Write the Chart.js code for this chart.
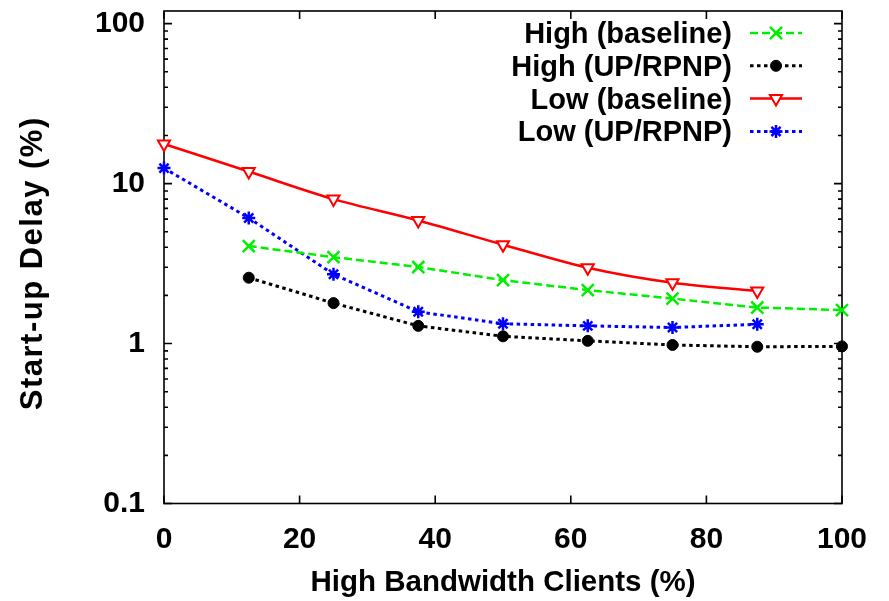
<!DOCTYPE html>
<html>
<head>
<meta charset="utf-8">
<script src="https://cdn.jsdelivr.net/npm/chart.js@4/dist/chart.umd.min.js"></script>
<style>
  html, body { margin: 0; padding: 0; background: #fff; }
  #wrap { width: 889px; height: 601px; }
</style>
</head>
<body>
<div id="wrap"><canvas id="c" width="889" height="601"></canvas></div>
<script>
// Share of high-bandwidth clients (%)
const clientShare = [0, 12.5, 25, 37.5, 50, 62.5, 75, 87.5, 100];

// Start-up delay (%) per configuration
const highBaseline = [null, 4.07, 3.47, 3.01, 2.49, 2.16, 1.91, 1.68, 1.62];
const highUpRpnp   = [null, 2.58, 1.79, 1.29, 1.11, 1.04, 0.98, 0.955, 0.96];
const lowBaseline  = [17.7, 11.9, 8.0, 5.88, 4.15, 2.98, 2.40, 2.13, null];
const lowUpRpnp    = [12.5, 6.1, 2.71, 1.58, 1.33, 1.29, 1.26, 1.32, null];

const seriesNames = ['High (baseline)', 'High (UP/RPNP)', 'Low (baseline)', 'Low (UP/RPNP)'];
const xTicks = [0, 20, 40, 60, 80, 100];
const yTicks = [0.1, 1, 10, 100];
const yTitle = 'Start-up Delay (%)';

const FONT = '"Liberation Sans", Arial, Helvetica, sans-serif';

function points(values) {
  const out = [];
  values.forEach((v, i) => { if (v !== null) out.push({ x: clientShare[i], y: v }); });
  return out;
}

const datasets = [
  {
    label: seriesNames[0], data: points(highBaseline),
    borderColor: '#00ee00', backgroundColor: '#00ee00', borderWidth: 2.5,
    borderDash: [8, 4], pointStyle: 'crossRot', pointRadius: 8.5,
    pointBorderWidth: 2.5, pointBorderColor: '#00ee00'
  },
  {
    label: seriesNames[1], data: points(highUpRpnp),
    borderColor: '#000', backgroundColor: '#000', borderWidth: 3,
    borderDash: [3.5, 3.5], pointStyle: 'circle', pointRadius: 5.5,
    pointBackgroundColor: '#000', pointBorderWidth: 1, pointBorderColor: '#000'
  },
  {
    label: seriesNames[2], data: points(lowBaseline),
    borderColor: '#ff0000', backgroundColor: '#fff', borderWidth: 2.5,
    borderDash: [], pointStyle: 'triangle', pointRotation: 180, pointRadius: 7,
    pointBackgroundColor: '#fff', pointBorderWidth: 2, pointBorderColor: '#ff0000',
    cubicInterpolationMode: 'monotone'
  },
  {
    label: seriesNames[3], data: points(lowUpRpnp),
    borderColor: '#0000ff', backgroundColor: '#0000ff', borderWidth: 3,
    borderDash: [3.5, 3.5], pointStyle: 'star', pointRadius: 6.5,
    pointBorderWidth: 2.5, pointBorderColor: '#0000ff'
  }
];
datasets.forEach(d => { d.clip = false; d.borderCapStyle = 'butt'; d.fill = false; d.showLine = true; });

// Frame with inward major/minor ticks on all four sides, plus the rotated y title
const framePlugin = {
  id: 'frame',
  beforeDatasetsDraw(chart) {
    const { ctx, chartArea: a, scales } = chart;
    const xs = scales.x, ys = scales.y;
    ctx.save();
    ctx.strokeStyle = '#000';
    ctx.lineWidth = 1.6;
    ctx.strokeRect(a.left, a.top, a.right - a.left, a.bottom - a.top);
    ctx.beginPath();
    xTicks.forEach(v => {
      const px = xs.getPixelForValue(v);
      ctx.moveTo(px, a.bottom); ctx.lineTo(px, a.bottom - 8);
      ctx.moveTo(px, a.top); ctx.lineTo(px, a.top + 8);
    });
    yTicks.forEach(dec => {
      for (let m = 1; m <= 9; m++) {
        const v = dec * m;
        if (v < ys.min - 1e-9 || v > ys.max + 1e-9) continue;
        const py = ys.getPixelForValue(v);
        const len = m === 1 ? 8 : 4;
        ctx.moveTo(a.left, py); ctx.lineTo(a.left + len, py);
        ctx.moveTo(a.right, py); ctx.lineTo(a.right - len, py);
      }
    });
    ctx.stroke();

    // y-axis title, rotated and centred on the plot area
    ctx.translate(33, (a.top + a.bottom) / 2 + 6);
    ctx.rotate(-Math.PI / 2);
    ctx.font = 'bold 31px ' + FONT;
    if ('letterSpacing' in ctx) ctx.letterSpacing = '1.5px';
    ctx.fillStyle = '#000';
    ctx.textAlign = 'center';
    ctx.textBaseline = 'middle';
    ctx.fillText(yTitle, 0, 0);
    ctx.restore();
  }
};

function marker(ctx, ds, x, y) {
  const opts = {
    pointStyle: ds.pointStyle, rotation: ds.pointRotation || 0,
    radius: ds.pointRadius, borderWidth: ds.pointBorderWidth
  };
  ctx.save();
  ctx.setLineDash([]);
  ctx.strokeStyle = ds.pointBorderColor;
  ctx.fillStyle = ds.pointBackgroundColor || ds.backgroundColor;
  ctx.lineWidth = ds.pointBorderWidth;
  Chart.helpers.drawPoint(ctx, opts, x, y);
  ctx.restore();
}

// Key in the top-right corner: right-aligned names, line sample with marker
const keyPlugin = {
  id: 'key',
  afterDatasetsDraw(chart) {
    const { ctx } = chart;
    const textRight = 732, x0 = 750, x1 = 802, top = 33, step = 32.8;
    chart.data.datasets.forEach((ds, i) => {
      const y = top + i * step;
      ctx.save();
      ctx.font = 'bold 29px ' + FONT;
      ctx.fillStyle = '#000';
      ctx.textAlign = 'right';
      ctx.textBaseline = 'middle';
      ctx.fillText(ds.label, textRight, y + 2);
      ctx.strokeStyle = ds.borderColor;
      ctx.lineWidth = ds.borderWidth;
      ctx.lineCap = 'butt';
      ctx.setLineDash(ds.borderDash || []);
      ctx.beginPath();
      ctx.moveTo(x0, y); ctx.lineTo(x1, y);
      ctx.stroke();
      ctx.restore();
      marker(ctx, ds, (x0 + x1) / 2, y);
    });
  }
};

new Chart(document.getElementById('c'), {
  type: 'line',
  data: { datasets },
  options: {
    responsive: false,
    animation: false,
    layout: { padding: { left: 0, top: 10, right: 47, bottom: 0 } },
    plugins: { legend: { display: false }, tooltip: { enabled: false } },
    scales: {
      x: {
        type: 'linear', min: 0, max: 100,
        afterBuildTicks(s) { s.ticks = xTicks.map(v => ({ value: v })); },
        afterFit(s) { s.height = 97.5; s.paddingLeft = 0; s.paddingRight = 0; },
        grid: { display: false, drawTicks: false, tickLength: 0 },
        border: { display: false },
        ticks: { color: '#000', font: { family: FONT, size: 30, weight: 'bold' }, padding: 18, maxRotation: 0 },
        title: {
          display: true, text: 'High Bandwidth Clients (%)', color: '#000',
          font: { family: FONT, size: 29.5, weight: 'bold' }, padding: { top: 0, bottom: 0 }
        }
      },
      y: {
        type: 'logarithmic', min: 0.1, max: 120,
        afterBuildTicks(s) { s.ticks = yTicks.map(v => ({ value: v })); },
        afterFit(s) { s.width = 164; s.paddingTop = 0; s.paddingBottom = 0; },
        grid: { display: false, drawTicks: false, tickLength: 0 },
        border: { display: false },
        ticks: {
          color: '#000', font: { family: FONT, size: 30, weight: 'bold' }, padding: 19,
          callback: v => String(v)
        },
        title: { display: false }
      }
    }
  },
  plugins: [framePlugin, keyPlugin]
});
</script>
</body>
</html>
